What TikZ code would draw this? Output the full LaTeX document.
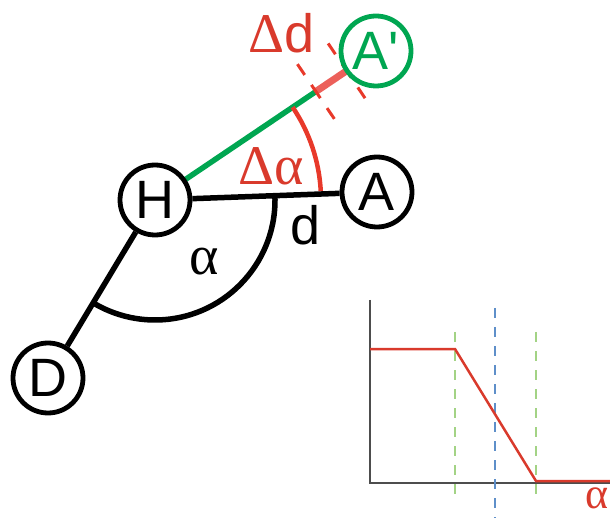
\documentclass[tikz,border=0pt]{standalone}
\usepackage{fontspec}
\setmainfont{Liberation Sans}
\newfontfamily\greekfont{Liberation Serif}
\usetikzlibrary{calc}
\definecolor{myred}{HTML}{D93A2C}
\definecolor{arcred}{HTML}{E8392A}
\definecolor{pinkred}{HTML}{EC605A}
\definecolor{mygreen}{HTML}{00A651}
\definecolor{lgreen}{HTML}{A3D385}
\definecolor{lblue}{HTML}{5E8FC9}
\definecolor{axisgray}{HTML}{4D4D4D}
\tikzset{
  atom/.style={circle, draw=black, line width=4.8pt, fill=white, minimum size=70pt, inner sep=0pt, font=\fontsize{54}{60}\selectfont},
  bond/.style={line width=5.5pt, draw=black},
  lbl/.style={inner sep=0pt, font=\fontsize{54}{60}\selectfont},
  glbl/.style={inner sep=0pt, font=\greekfont\fontsize{56}{60}\selectfont},
  reddash/.style={draw=arcred, line width=3pt},
  guide/.style={line width=1.5pt, dash pattern=on 10pt off 9pt},
}
\begin{document}
\begin{tikzpicture}[x=1pt,y=-1pt]
\useasboundingbox (0,0) rectangle (610,518);
% atoms
\coordinate (Hc) at (155,200);
\coordinate (Apc) at (376,51);
% green bond and delta d
\coordinate (P1) at ($(Hc)!0.728!(Apc)$);
\coordinate (P2) at ($(Hc)!0.867!(Apc)$);
\draw[mygreen, line width=5.5pt] (Hc) -- (P1);
\draw[pinkred, line width=7pt] (P1) -- (P2);
% perpendicular ticks and dashes
\foreach \p in {P1,P2}{
  \draw[reddash] ($(\p)!8pt!90:(Apc)$) -- ($(\p)!8pt!-90:(Apc)$);
  \draw[reddash] ($(\p)!20pt!90:(Apc)$) -- ($(\p)!33pt!90:(Apc)$);
  \draw[reddash] ($(\p)!20pt!-90:(Apc)$) -- ($(\p)!33pt!-90:(Apc)$);
}
% arcs
\draw[arcred, line width=4.5pt] ($(Hc)+(-34:166)$) arc[start angle=-34, end angle=-3, radius=166];
\draw[bond] ($(Hc)+(-3:120)$) arc[start angle=-3, end angle=121, radius=120];
% nodes
\node[atom] (H) at (Hc) {H};
\node[atom] (A) at (377,192) {A};
\node[atom] (D) at (48,378) {D};
\node[atom, draw=mygreen, text=mygreen] (Ap) at (Apc) {A\textquotesingle};
\draw[bond] (H) -- (A);
\draw[bond] (H) -- (D);
% labels
\node[inner sep=0pt, text=myred, anchor=base] (dd) at (282,53) {{\greekfont\fontsize{56}{60}\selectfont Δ}{\fontsize{54}{60}\selectfont d}};
\node[glbl, text=myred, anchor=base] (da) at (271,185) {Δα};
\node[glbl] (al) at (204,262) {α};
\node[lbl, anchor=base] (d) at (306,245) {d};
% chart
\coordinate (O) at (370,483);
\coordinate (Yt) at (370,300);
\coordinate (Xr) at (610,483);
\draw[axisgray, line width=1.6pt] (Yt) -- (O) -- (Xr);
\draw[lgreen, guide] (455,332) coordinate (g1t) -- (455,500) coordinate (g1b);
\draw[lgreen, guide] (536,332) coordinate (g2t) -- (536,500) coordinate (g2b);
\draw[lblue, guide] (495,308) coordinate (bt) -- (495,518) coordinate (bb);
\coordinate (c0) at (370,349);
\coordinate (c1) at (455,349);
\coordinate (c2) at (536,481);
\coordinate (c3) at (610,481);
\draw[myred, line width=2.5pt] (c0) -- (c1) -- (c2) -- (c3);
\node[inner sep=0pt, text=myred, font=\greekfont\fontsize{44}{48}\selectfont] (ax) at (597,498) {α};
\end{tikzpicture}
\end{document}
